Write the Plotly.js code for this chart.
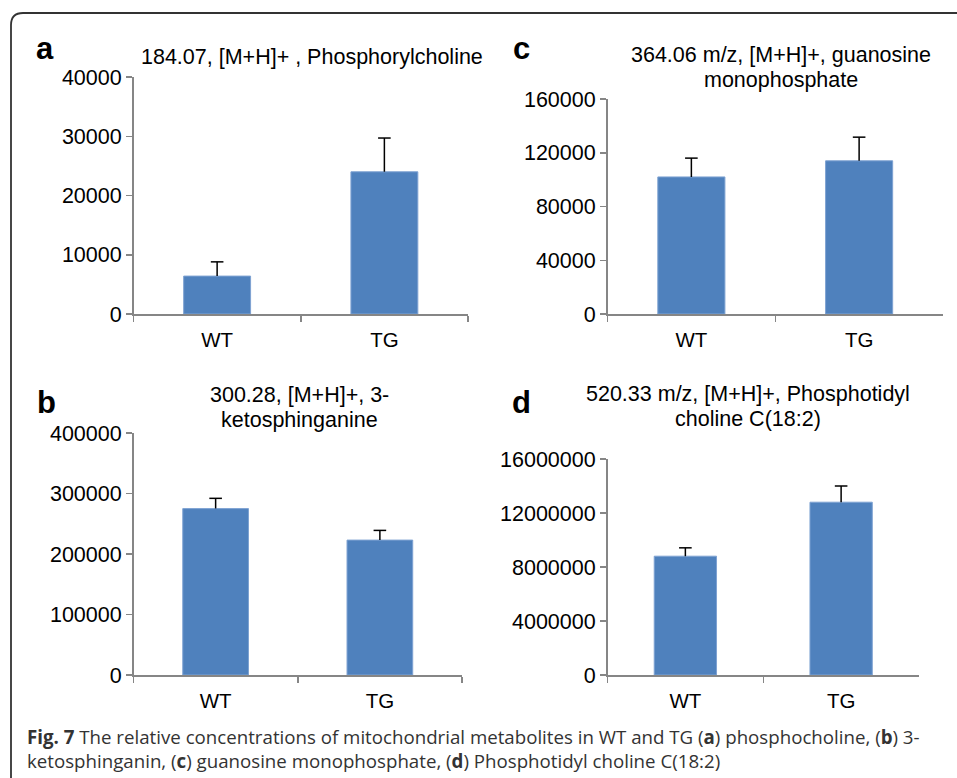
<!DOCTYPE html>
<html>
<head>
<meta charset="utf-8">
<script src="https://cdn.plot.ly/plotly-3.0.1.min.js"></script>
<style>html,body{margin:0;padding:0;background:#fff;}#chart{width:957px;height:778px;}</style>
</head>
<body>
<div id="chart"></div>
<script>
// ---- data ----
const categories = ['WT', 'TG'];

const valuesA = [6400, 24000];
const errorsA = [2400, 5700];
const titleA = ['184.07, [M+H]+ , Phosphorylcholine'];
const ticksA = [0, 10000, 20000, 30000, 40000];

const valuesB = [275000, 223000];
const errorsB = [17000, 16000];
const titleB = ['300.28, [M+H]+, 3-', 'ketosphinganine'];
const ticksB = [0, 100000, 200000, 300000, 400000];

const valuesC = [102000, 114000];
const errorsC = [14000, 17600];
const titleC = ['364.06 m/z, [M+H]+, guanosine', 'monophosphate'];
const ticksC = [0, 40000, 80000, 120000, 160000];

const valuesD = [8800000, 12800000];
const errorsD = [620000, 1200000];
const titleD = ['520.33 m/z, [M+H]+, Phosphotidyl', 'choline C(18:2)'];
const ticksD = [0, 4000000, 8000000, 12000000, 16000000];

const panelLabels = ['a', 'b', 'c', 'd'];
const captionLine1 = '<b>Fig. 7</b> The relative concentrations of mitochondrial metabolites in WT and TG (<b>a</b>) phosphocholine, (<b>b</b>) 3-';
const captionLine2 = 'ketosphinganin, (<b>c</b>) guanosine monophosphate, (<b>d</b>) Phosphotidyl choline C(18:2)';

// ---- layout helpers ----
const W = 957, H = 778;
const px = x => x / W;
const py = y => (H - y) / H;

const barColor = '#4f81bd';
const axisColor = '#868686';
const fontFam = '"Liberation Sans", Arial, sans-serif';

function barTraces(vals, errs, xa, ya) {
  const bar = {
    type: 'bar', x: categories, y: vals, xaxis: xa, yaxis: ya,
    width: 0.4,
    marker: {color: barColor, line: {color: '#7ea2d2', width: 1}},
    showlegend: false, hoverinfo: 'none'
  };
  // upper-only error whiskers: stem from bar top to value+error, cap at the end
  const sx = [], sy = [];
  categories.forEach((c, i) => { sx.push(c, c, null); sy.push(vals[i], vals[i] + errs[i], null); });
  const stem = {
    type: 'scatter', mode: 'lines', x: sx, y: sy, xaxis: xa, yaxis: ya,
    line: {color: '#000', width: 1.5}, showlegend: false, hoverinfo: 'none', cliponaxis: false
  };
  const cap = {
    type: 'scatter', mode: 'markers', x: categories, y: vals.map((v, i) => v + errs[i]),
    xaxis: xa, yaxis: ya,
    marker: {symbol: 'line-ew-open', size: 9, color: '#000', line: {color: '#000', width: 1.5}},
    showlegend: false, hoverinfo: 'none', cliponaxis: false
  };
  return [bar, stem, cap];
}

const data = [].concat(
  barTraces(valuesA, errorsA, 'x', 'y'),
  barTraces(valuesB, errorsB, 'x2', 'y2'),
  barTraces(valuesC, errorsC, 'x3', 'y3'),
  barTraces(valuesD, errorsD, 'x4', 'y4')
);

function xAxis(domain, anchor) {
  return {
    domain: domain, anchor: anchor, type: 'category',
    showline: true, linecolor: axisColor, linewidth: 1.5,
    ticks: 'outside', tickson: 'boundaries', ticklen: 6, tickcolor: axisColor, tickwidth: 1.5,
    ticklabelstandoff: 7,
    tickfont: {family: fontFam, size: 20.5, color: '#000'},
    showgrid: false, zeroline: false, fixedrange: true
  };
}
function yAxis(domain, anchor, ticks) {
  return {
    domain: domain, anchor: anchor,
    range: [0, ticks[ticks.length - 1]],
    tickmode: 'array', tickvals: ticks, ticktext: ticks.map(String),
    showline: true, linecolor: axisColor, linewidth: 1.5,
    ticks: 'outside', ticklen: 6, tickcolor: axisColor, tickwidth: 1.5,
    tickfont: {family: fontFam, size: 21.5, color: '#000'},
    showgrid: false, zeroline: false, fixedrange: true
  };
}

function textAnn(text, x, y, size, family, color, xanchor) {
  return {text: text, x: px(x), y: py(y), xref: 'paper', yref: 'paper', showarrow: false,
          font: {family: family, size: size, color: color}, xanchor: xanchor || 'center', yanchor: 'middle'};
}
function titleAnns(lines, cx, y0, gap) {
  return lines.map((t, i) => textAnn(t, cx, y0 + i * gap, 21.5, fontFam, '#000'));
}

const annotations = [].concat(
  titleAnns(titleA, 312, 57, 25),
  titleAnns(titleB, 299, 395, 25),
  titleAnns(titleC, 781, 55, 25),
  titleAnns(titleD, 748, 394, 25),
  [
    textAnn('<b>' + panelLabels[0] + '</b>', 45, 48, 31, fontFam, '#000'),
    textAnn('<b>' + panelLabels[1] + '</b>', 46, 402, 31, fontFam, '#000'),
    textAnn('<b>' + panelLabels[2] + '</b>', 521, 48, 31, fontFam, '#000'),
    textAnn('<b>' + panelLabels[3] + '</b>', 521, 402, 31, fontFam, '#000'),
    textAnn(captionLine1, 25, 736, 18.7, '"Open Sans", sans-serif', '#333', 'left'),
    textAnn(captionLine2, 25, 760, 18.7, '"Open Sans", sans-serif', '#333', 'left')
  ]
);

const layout = {
  width: W, height: H, autosize: false,
  margin: {l: 0, r: 0, t: 0, b: 0},
  paper_bgcolor: '#fff', plot_bgcolor: 'rgba(0,0,0,0)',
  bargap: 0.6,
  xaxis:  xAxis([px(133.5), px(468)], 'y'),
  yaxis:  yAxis([py(314), py(77)], 'x', ticksA),
  xaxis2: xAxis([px(133.5), px(462)], 'y2'),
  yaxis2: yAxis([py(675), py(433)], 'x2', ticksB),
  xaxis3: xAxis([px(607.5), px(943)], 'y3'),
  yaxis3: yAxis([py(314), py(99)], 'x3', ticksC),
  xaxis4: xAxis([px(607.5), px(919)], 'y4'),
  yaxis4: yAxis([py(675), py(459)], 'x4', ticksD),
  annotations: annotations,
  shapes: [
    {type: 'path', xref: 'paper', yref: 'paper',
     path: 'M ' + px(11) + ' ' + py(778) + ' L ' + px(11) + ' ' + py(25) +
           ' Q ' + px(11) + ' ' + py(13) + ' ' + px(23) + ' ' + py(13) +
           ' L ' + px(957) + ' ' + py(13),
     line: {color: '#333', width: 1.8}}
  ]
};

Plotly.newPlot('chart', data, layout, {staticPlot: true, displayModeBar: false});
</script>
</body>
</html>
